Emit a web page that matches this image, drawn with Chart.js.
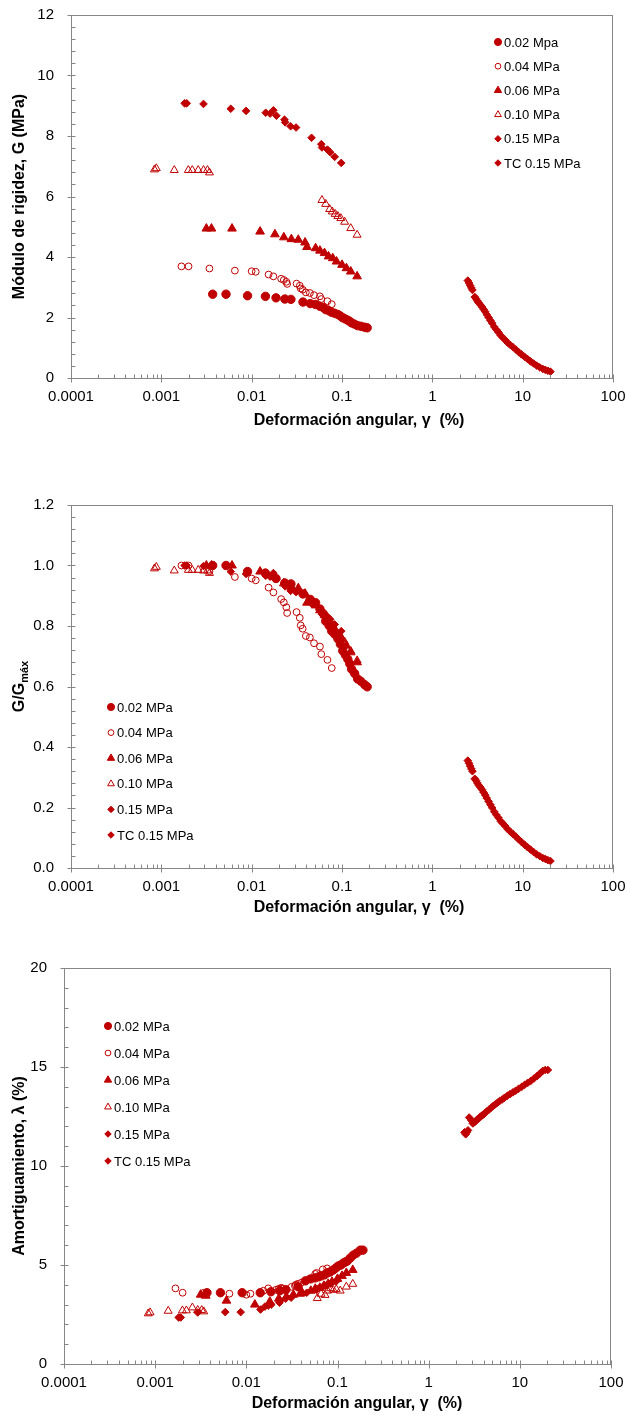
<!DOCTYPE html>
<html>
<head>
<meta charset="utf-8">
<script src="https://cdn.jsdelivr.net/npm/chart.js@4.4.1/dist/chart.umd.min.js"></script>
<style>
    html, body { margin: 0; padding: 0; background: #fff; }
    #wrap { position: relative; width: 626px; height: 1418px; }
    canvas { position: absolute; left: 0; }
</style>
</head>
<body>
<div id="wrap">
    <canvas id="chart-g" width="626" height="450" style="top:0"></canvas>
    <canvas id="chart-ratio" width="626" height="480" style="top:450px"></canvas>
    <canvas id="chart-damping" width="626" height="488" style="top:930px"></canvas>
</div>
<script>
// Shear strain (%) read for each series, shared by the three plots
const strain002 = [0.0037, 0.0052, 0.0090, 0.0142, 0.0186, 0.0233, 0.0272, 0.037, 0.0445, 0.051, 0.057, 0.062, 0.066, 0.072, 0.077, 0.083, 0.090, 0.096, 0.102, 0.109, 0.116, 0.122, 0.128, 0.138, 0.149, 0.162, 0.178, 0.19];
const strain004 = [0.00167, 0.0020, 0.00341, 0.00652, 0.0100, 0.0111, 0.0154, 0.0174, 0.0212, 0.0227, 0.0242, 0.0247, 0.0314, 0.0341, 0.0349, 0.0367, 0.0398, 0.0441, 0.049, 0.057, 0.059, 0.069, 0.077];
const strain006 = [0.00315, 0.00359, 0.00606, 0.0124, 0.0181, 0.0227, 0.0275, 0.0328, 0.039, 0.041, 0.051, 0.057, 0.064, 0.071, 0.079, 0.087, 0.1, 0.112, 0.125, 0.147];
const strain010 = [0.00084, 0.00088, 0.00139, 0.00199, 0.0022, 0.00256, 0.00293, 0.00324, 0.00341, 0.060, 0.066, 0.073, 0.078, 0.084, 0.090, 0.097, 0.107, 0.125, 0.147];
const strain015 = [0.00181, 0.00191, 0.00293, 0.00587, 0.00867, 0.0143, 0.016, 0.0174, 0.0188, 0.0231, 0.0235, 0.027, 0.031, 0.046, 0.059, 0.060, 0.069, 0.074, 0.083, 0.098];
const strainTC = [2.47, 2.55, 2.62, 2.70, 2.78, 2.95, 3.05, 3.15, 3.25, 3.4, 3.55, 3.7, 3.85, 4.0, 4.2, 4.4, 4.6, 4.85, 5.1, 5.4, 5.7, 6.0, 6.4, 6.8, 7.3, 7.8, 8.4, 9.0, 9.7, 10.5, 11.3, 12.2, 13.2, 14.3, 15.5, 16.7, 17.8, 19.0, 20.3];

// Shear modulus G (MPa)
const modulus002 = [2.77, 2.77, 2.72, 2.70, 2.65, 2.61, 2.60, 2.51, 2.46, 2.43, 2.37, 2.33, 2.26, 2.22, 2.17, 2.14, 2.10, 2.05, 1.99, 1.95, 1.91, 1.87, 1.82, 1.78, 1.73, 1.71, 1.68, 1.66];
const modulus004 = [3.69, 3.69, 3.62, 3.55, 3.53, 3.51, 3.42, 3.36, 3.28, 3.24, 3.18, 3.11, 3.12, 3.05, 2.96, 2.92, 2.83, 2.81, 2.74, 2.70, 2.61, 2.54, 2.44];
const modulus006 = [4.94, 4.94, 4.94, 4.84, 4.75, 4.65, 4.59, 4.57, 4.48, 4.33, 4.29, 4.21, 4.13, 4.02, 3.96, 3.85, 3.74, 3.63, 3.52, 3.36];
const modulus010 = [6.89, 6.93, 6.87, 6.87, 6.87, 6.87, 6.87, 6.87, 6.79, 5.88, 5.75, 5.58, 5.50, 5.42, 5.35, 5.28, 5.16, 4.95, 4.73];
const modulus015 = [9.08, 9.08, 9.06, 8.90, 8.83, 8.77, 8.74, 8.85, 8.67, 8.54, 8.45, 8.32, 8.28, 7.94, 7.73, 7.62, 7.55, 7.46, 7.31, 7.11];
const modulusTC = [3.22, 3.14, 3.06, 2.98, 2.91, 2.68, 2.62, 2.55, 2.49, 2.42, 2.35, 2.27, 2.19, 2.10, 2.00, 1.90, 1.81, 1.69, 1.60, 1.51, 1.41, 1.34, 1.26, 1.17, 1.09, 1.02, 0.94, 0.86, 0.78, 0.70, 0.63, 0.55, 0.48, 0.41, 0.35, 0.30, 0.27, 0.24, 0.21];

// G/Gmax
const ratio002 = [1.00, 1.00, 0.98, 0.975, 0.957, 0.942, 0.939, 0.906, 0.888, 0.877, 0.856, 0.841, 0.816, 0.801, 0.783, 0.773, 0.758, 0.740, 0.718, 0.704, 0.690, 0.675, 0.657, 0.643, 0.625, 0.617, 0.606, 0.599];
const ratio004 = [1.0, 1.0, 0.981, 0.962, 0.957, 0.951, 0.927, 0.911, 0.889, 0.878, 0.862, 0.843, 0.846, 0.827, 0.802, 0.791, 0.767, 0.762, 0.743, 0.732, 0.707, 0.688, 0.661];
const ratio006 = [1.0, 1.0, 1.0, 0.980, 0.962, 0.941, 0.929, 0.925, 0.907, 0.877, 0.868, 0.852, 0.836, 0.814, 0.802, 0.779, 0.757, 0.735, 0.713, 0.680];
const ratio010 = [0.99, 0.995, 0.983, 0.985, 0.985, 0.985, 0.983, 0.983, 0.975, 0.852, 0.833, 0.809, 0.797, 0.786, 0.775, 0.765, 0.748, 0.717, 0.686];
const ratio015 = [1.0, 1.0, 0.998, 0.980, 0.972, 0.966, 0.963, 0.975, 0.955, 0.941, 0.931, 0.916, 0.912, 0.874, 0.851, 0.839, 0.831, 0.822, 0.805, 0.783];
const ratioTC = [0.355, 0.346, 0.337, 0.328, 0.320, 0.295, 0.289, 0.281, 0.274, 0.267, 0.259, 0.250, 0.241, 0.231, 0.220, 0.209, 0.199, 0.186, 0.176, 0.166, 0.155, 0.148, 0.139, 0.129, 0.120, 0.112, 0.104, 0.095, 0.086, 0.077, 0.069, 0.061, 0.053, 0.045, 0.039, 0.033, 0.030, 0.026, 0.023];

// Damping (%)
const damping002 = [3.6, 3.6, 3.6, 3.6, 3.65, 3.7, 3.75, 3.9, 4.2, 4.3, 4.35, 4.4, 4.45, 4.5, 4.6, 4.65, 4.75, 4.85, 4.95, 5.0, 5.1, 5.15, 5.2, 5.35, 5.5, 5.6, 5.75, 5.75];
const damping004 = [3.82, 3.6, 3.6, 3.55, 3.5, 3.55, 3.7, 3.82, 3.75, 3.8, 3.85, 3.8, 3.9, 3.95, 4.0, 4.05, 4.1, 4.2, 4.3, 4.55, 4.6, 4.78, 4.83];
const damping006 = [3.5, 3.45, 3.2, 3.0, 3.15, 3.3, 3.4, 3.5, 3.55, 3.6, 3.7, 3.8, 3.85, 3.95, 4.05, 4.15, 4.3, 4.45, 4.6, 4.75];
const damping010 = [2.55, 2.6, 2.68, 2.7, 2.7, 2.85, 2.72, 2.72, 2.65, 3.32, 3.54, 3.48, 3.7, 3.82, 3.74, 3.77, 3.7, 3.9, 4.04];
const damping015 = [2.35, 2.35, 2.6, 2.62, 2.62, 2.75, 2.9, 2.95, 3.0, 3.1, 3.2, 3.3, 3.35, 3.6, 3.75, 3.8, 3.9, 3.95, 4.05, 4.2];
const dampingTC = [11.7, 11.6, 11.7, 11.8, 12.45, 12.3, 12.15, 12.2, 12.25, 12.35, 12.4, 12.5, 12.55, 12.6, 12.7, 12.78, 12.85, 12.95, 13.03, 13.12, 13.2, 13.28, 13.36, 13.45, 13.55, 13.63, 13.72, 13.8, 13.9, 14.0, 14.1, 14.2, 14.3, 14.42, 14.55, 14.68, 14.8, 14.85, 14.85];

// Legend labels (first plot writes "Mpa" for the first entry)
const labelsTop = ['0.02 Mpa', '0.04 MPa', '0.06 MPa', '0.10 MPa', '0.15 MPa', 'TC 0.15 MPa'];
const labelsOther = ['0.02 MPa', '0.04 MPa', '0.06 MPa', '0.10 MPa', '0.15 MPa', 'TC 0.15 MPa'];

// Log axis ticks
const xTickValues = [0.0001, 0.001, 0.01, 0.1, 1, 10, 100];
const xTickLabels = ['0.0001', '0.001', '0.01', '0.1', '1', '10', '100'];

const RED = '#C00000';
const AXIS_COLOR = '#868686';
const FONT = "'Liberation Sans', Arial, sans-serif";

// marker look for each series, in legend order
const seriesStyles = [
    { pointStyle: 'circle', radius: 4.2, filled: true },
    { pointStyle: 'circle', radius: 3.4, filled: false },
    { pointStyle: 'triangle', radius: 5, filled: true },
    { pointStyle: 'triangle', radius: 4.6, filled: false },
    { pointStyle: 'rectRot', radius: 3.8, filled: true },
    { pointStyle: 'rectRot', radius: 3.8, filled: true }
];

const strains = [strain002, strain004, strain006, strain010, strain015, strainTC];

function buildDatasets(values, labels) {
    return values.map((vals, i) => {
        const st = seriesStyles[i];
        return {
            label: labels[i],
            data: strains[i].map((x, k) => ({ x: x, y: vals[k] })),
            pointStyle: st.pointStyle,
            pointRadius: st.radius,
            pointHoverRadius: st.radius,
            pointBorderWidth: 1,
            pointBackgroundColor: st.filled ? RED : 'rgba(255,255,255,0)',
            pointBorderColor: RED,
            showLine: false
        };
    });
}

/**
 * Excel-like frame: box, crossing major ticks, inner minor ticks, axis titles
 */
const framePlugin = {
    id: 'excelFrame',
    afterDraw(chart, args, opts) {
        const { ctx, chartArea: a, scales } = chart;
        const x = scales.x, y = scales.y;
        ctx.save();
        ctx.strokeStyle = AXIS_COLOR;
        ctx.lineWidth = 1;
        ctx.strokeRect(Math.round(a.left) + 0.5, Math.round(a.top) + 0.5,
            Math.round(a.right - a.left) - 1, Math.round(a.bottom - a.top));

        ctx.beginPath();
        const bottom = Math.round(a.bottom) + 0.5;
        const left = Math.round(a.left) + 0.5;
        xTickValues.forEach(v => {
            const px = Math.round(x.getPixelForValue(v)) + 0.5;
            ctx.moveTo(px, bottom - 4);
            ctx.lineTo(px, bottom + 4);
        });
        for (let d = -4; d < 2; d++) {
            for (let k = 2; k <= 9; k++) {
                const px = Math.round(x.getPixelForValue(k * Math.pow(10, d))) + 0.5;
                ctx.moveTo(px, bottom);
                ctx.lineTo(px, bottom - 4);
            }
        }
        const n = Math.round((y.max - y.min) / opts.minorStep);
        const every = Math.round(opts.majorStep / opts.minorStep);
        for (let i = 0; i <= n; i++) {
            const py = Math.round(y.getPixelForValue(y.min + i * opts.minorStep)) + 0.5;
            if (i % every === 0) {
                ctx.moveTo(left - 4, py);
                ctx.lineTo(left + 4, py);
            } else {
                ctx.moveTo(left, py);
                ctx.lineTo(left + 4, py);
            }
        }
        ctx.stroke();

        // axis titles
        ctx.fillStyle = '#000';
        ctx.font = 'bold 16px ' + FONT;
        ctx.textAlign = 'center';
        ctx.textBaseline = 'middle';
        ctx.fillText('Deformación angular, γ  (%)', opts.xTitleX, a.bottom + opts.xTitleOffset);

        ctx.translate(opts.yTitleX, (a.top + a.bottom) / 2);
        ctx.rotate(-Math.PI / 2);
        if (opts.ySub) {
            const main = opts.yTitle;
            ctx.font = 'bold 16px ' + FONT;
            const w1 = ctx.measureText(main).width;
            ctx.font = 'bold 11px ' + FONT;
            const w2 = ctx.measureText(opts.ySub).width;
            const start = -(w1 + w2) / 2;
            ctx.textAlign = 'left';
            ctx.font = 'bold 16px ' + FONT;
            ctx.fillText(main, start, 0);
            ctx.font = 'bold 11px ' + FONT;
            ctx.fillText(opts.ySub, start + w1, 5);
        } else {
            ctx.fillText(opts.yTitle, 0, 0);
        }
        ctx.restore();
    }
};

/**
 * Legend drawn inside the plot, markers taken from the datasets
 */
const markLegendPlugin = {
    id: 'markLegend',
    afterDraw(chart, args, opts) {
        const ctx = chart.ctx;
        ctx.save();
        ctx.font = '13px ' + FONT;
        ctx.textAlign = 'left';
        ctx.textBaseline = 'middle';
        chart.data.datasets.forEach((ds, i) => {
            const yy = opts.y + i * opts.dy;
            ctx.fillStyle = ds.pointBackgroundColor;
            ctx.strokeStyle = ds.pointBorderColor;
            ctx.lineWidth = 1;
            Chart.helpers.drawPoint(ctx, {
                pointStyle: ds.pointStyle,
                radius: ds.pointRadius * 0.85,
                borderWidth: 1,
                rotation: 0
            }, opts.x, yy);
            ctx.fillStyle = '#000';
            ctx.fillText(ds.label, opts.x + 6, yy + 1);
        });
        ctx.restore();
    }
};

function makeChart(id, datasets, cfg) {
    const ctx = document.getElementById(id).getContext('2d');
    return new Chart(ctx, {
        type: 'scatter',
        data: { datasets: datasets },
        options: {
            responsive: false,
            animation: false,
            devicePixelRatio: 1,
            layout: { padding: { top: cfg.top, right: cfg.right, bottom: cfg.bottom, left: 0 } },
            plugins: {
                legend: { display: false },
                tooltip: { enabled: false },
                excelFrame: cfg.frame,
                markLegend: cfg.legend
            },
            scales: {
                x: {
                    type: 'logarithmic',
                    min: 0.0001,
                    max: 100,
                    grid: { display: false },
                    border: { display: false },
                    afterBuildTicks: scale => {
                        scale.ticks = xTickValues.map(v => ({ value: v }));
                    },
                    afterFit: scale => {
                        scale.height = 40;
                        scale.paddingLeft = 0;
                        scale.paddingRight = 0;
                    },
                    ticks: {
                        autoSkip: false,
                        maxRotation: 0,
                        padding: 2,
                        color: '#000',
                        font: { family: FONT, size: 15 },
                        callback: (v) => {
                            const idx = xTickValues.findIndex(t => Math.abs(Math.log10(t) - Math.log10(v)) < 1e-6);
                            return idx >= 0 ? xTickLabels[idx] : '';
                        }
                    }
                },
                y: {
                    min: cfg.yMin,
                    max: cfg.yMax,
                    grid: { display: false },
                    border: { display: false },
                    afterFit: scale => {
                        scale.width = cfg.left;
                        scale.paddingTop = 0;
                        scale.paddingBottom = 0;
                    },
                    ticks: {
                        stepSize: cfg.yStep,
                        padding: 9,
                        color: '#000',
                        font: { family: FONT, size: 15 },
                        callback: cfg.yFormat
                    }
                }
            }
        },
        plugins: [framePlugin, markLegendPlugin]
    });
}

makeChart('chart-g',
    buildDatasets([modulus002, modulus004, modulus006, modulus010, modulus015, modulusTC], labelsTop), {
    left: 71, right: 13, top: 15, bottom: 32, yMin: 0, yMax: 12, yStep: 2,
    yFormat: v => String(v),
    frame: { minorStep: 0.4, majorStep: 2, yTitle: 'Módulo de rigidez, G (MPa)', yTitleX: 20, xTitleX: 359, xTitleOffset: 43 },
    legend: { x: 498, y: 42, dy: 24.2 }
});

makeChart('chart-ratio',
    buildDatasets([ratio002, ratio004, ratio006, ratio010, ratio015, ratioTC], labelsOther), {
    left: 71, right: 13, top: 55, bottom: 22, yMin: 0, yMax: 1.2, yStep: 0.2,
    yFormat: v => v.toFixed(1),
    frame: { minorStep: 0.04, majorStep: 0.2, yTitle: 'G/G', ySub: 'máx', yTitleX: 20, xTitleX: 359, xTitleOffset: 40 },
    legend: { x: 111, y: 257, dy: 25.6 }
});

makeChart('chart-damping',
    buildDatasets([damping002, damping004, damping006, damping010, damping015, dampingTC], labelsOther), {
    left: 64, right: 15, top: 38, bottom: 14, yMin: 0, yMax: 20, yStep: 5,
    yFormat: v => String(v),
    frame: { minorStep: 1, majorStep: 5, yTitle: 'Amortiguamiento, λ (%)', yTitleX: 20, xTitleX: 357, xTitleOffset: 40 },
    legend: { x: 108, y: 96, dy: 27 }
});
</script>
</body>
</html>
